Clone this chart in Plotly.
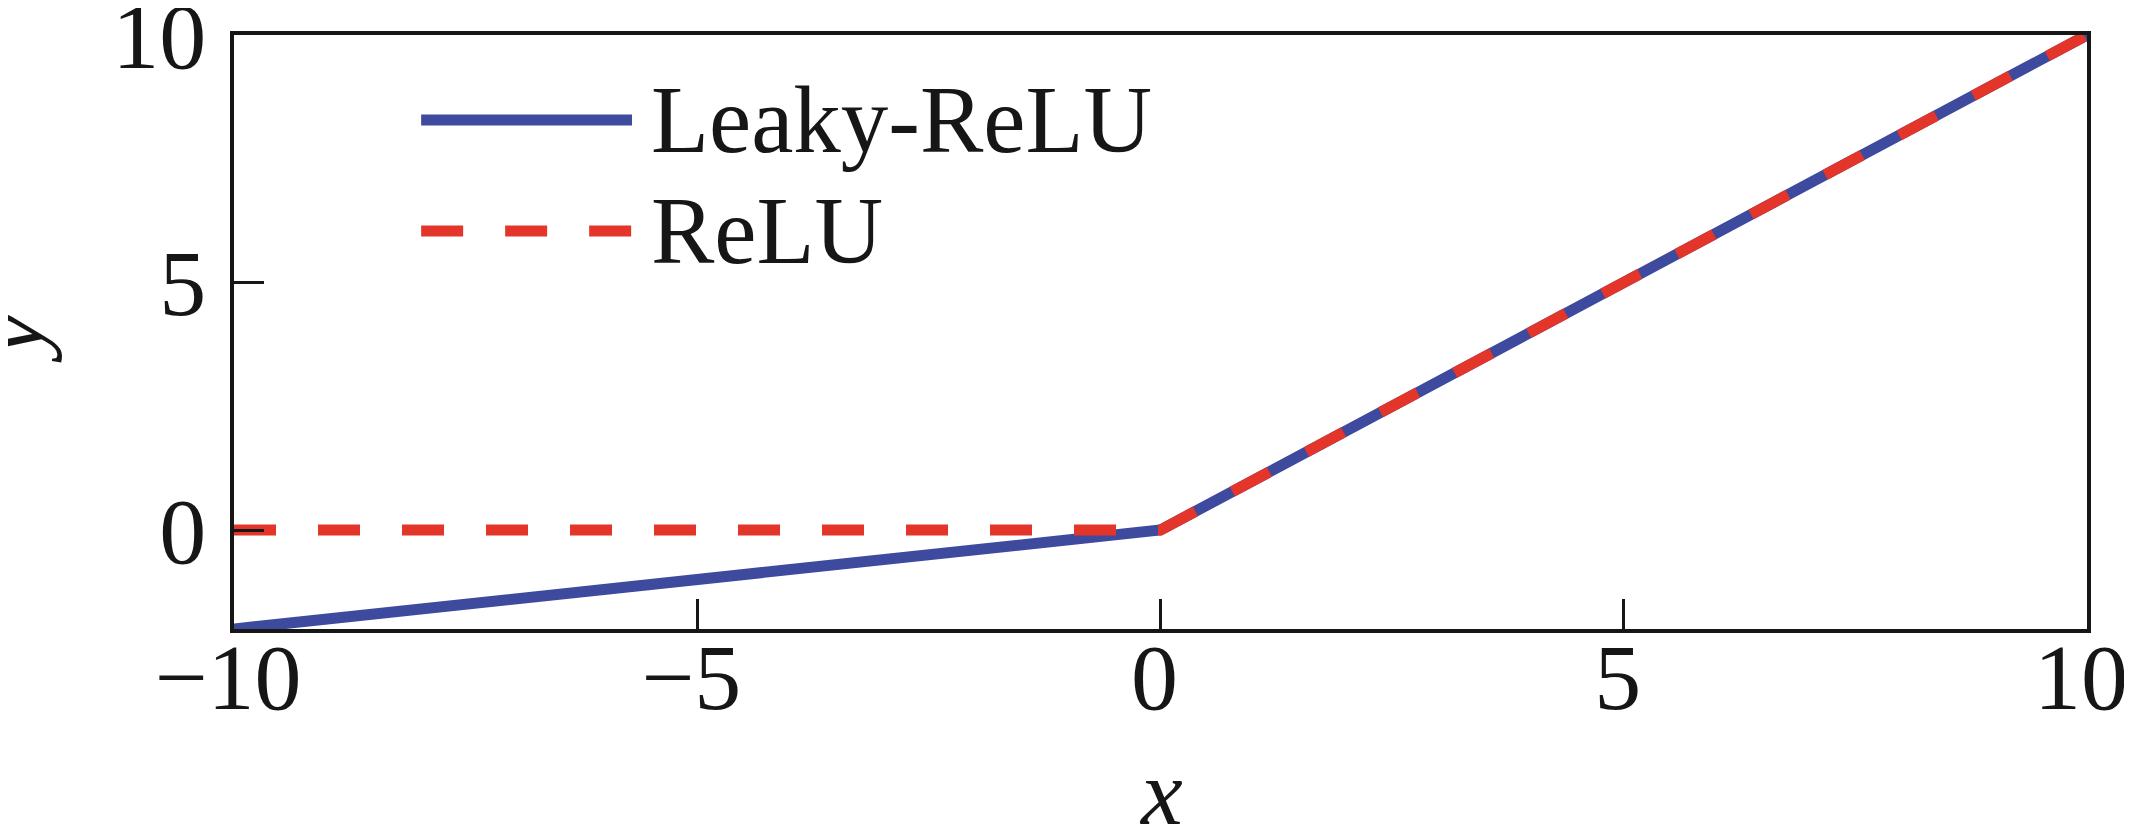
import plotly.graph_objects as go

# activation curves
x_vals = [-10, 0, 10]
leaky_relu = [-2, 0, 10]
relu = [0, 0, 10]

legend_names = ["Leaky-ReLU", "ReLU"]
x_ticks = [-10, -5, 0, 5, 10]
y_ticks = [0, 5, 10]

BLUE = "#3d4a9e"
RED = "#e4352b"
INK = "#161616"
SERIF = "Liberation Serif, Times New Roman, serif"

fig = go.Figure()

fig.add_trace(
    go.Scatter(
        x=x_vals,
        y=leaky_relu,
        mode="lines",
        name=legend_names[0],
        line=dict(color=BLUE, width=11),
        showlegend=False
    )
)

fig.add_trace(
    go.Scatter(
        x=x_vals,
        y=relu,
        mode="lines",
        name=legend_names[1],
        line=dict(color=RED, width=11, dash="42px,42px"),
        showlegend=False
    )
)

# hand made legend so the line samples can be as long as in the original
legend_rows = [(0.857, BLUE, "solid"), (0.670, RED, "42px,42px")]
for name, (ypos, color, dash) in zip(legend_names, legend_rows):
    fig.add_shape(
        type="line", xref="paper", yref="paper",
        x0=0.101, x1=0.2148, y0=ypos, y1=ypos,
        line=dict(color=color, width=11, dash=dash)
    )
    fig.add_annotation(
        xref="paper", yref="paper", x=0.224, y=ypos,
        text=name, showarrow=False,
        xanchor="left", yanchor="middle",
        font=dict(family=SERIF, size=95, color=INK)
    )

# axis titles as annotations: plotly keeps axis titles inside the margins,
# the original pushes them right to the page edge
title_font = dict(family=SERIF, size=94, color=INK, style="italic")
fig.add_annotation(
    xref="paper", yref="paper", x=0.5, y=-0.274,
    text="x", showarrow=False, xanchor="center", yanchor="middle",
    font=title_font
)
fig.add_annotation(
    xref="paper", yref="paper", x=-0.121, y=0.49,
    text="y", showarrow=False, xanchor="center", yanchor="middle",
    textangle=-90, font=title_font
)

axis_common = dict(
    showline=True,
    linecolor=INK,
    linewidth=4,
    mirror=True,
    showgrid=False,
    zeroline=False,
    automargin=False,
    ticks="inside",
    ticklen=30,
    tickwidth=3,
    tickcolor=INK,
    ticklabeloverflow="allow",
    tickfont=dict(family=SERIF, size=94, color=INK),
)

fig.update_xaxes(
    range=[-10, 10],
    tickvals=x_ticks,
    ticklabelstandoff=-37,
    ticklabelshift=-6,
    **axis_common
)

fig.update_yaxes(
    range=[-2, 10],
    tickvals=y_ticks,
    ticklabelstandoff=5,
    **axis_common
)

# the page body adds an 8px margin, so the figure is 8px smaller than the window
fig.update_layout(
    width=2124,
    height=818,
    margin=dict(l=226, r=45, t=27, b=197),
    plot_bgcolor="white",
    paper_bgcolor="white",
    template="plotly_white"
)

fig.write_html("out.html")
